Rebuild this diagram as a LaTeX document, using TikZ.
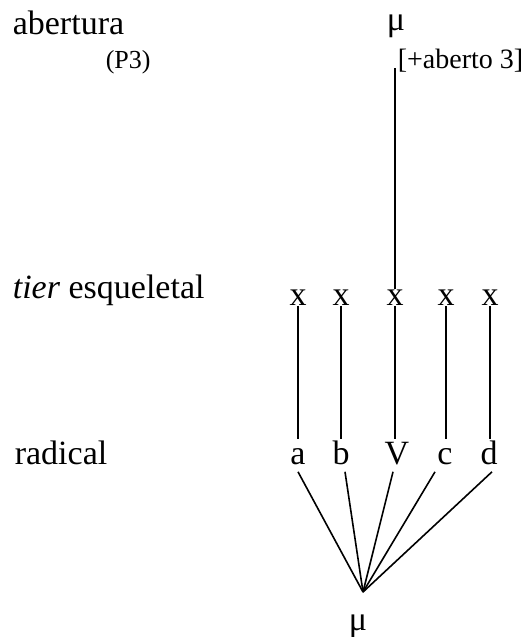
\documentclass[tikz,border=0pt]{standalone}
\usepackage{fontspec}
\setmainfont{Liberation Serif}
\usetikzlibrary{positioning}

\begin{document}
\begin{tikzpicture}[x=1pt,y=-1pt,line width=1.6pt,
 lbl/.style={anchor=base west,inner sep=0pt,font=\fontsize{34}{40}\selectfont},
 small/.style={anchor=base west,inner sep=0pt,font=\fontsize{26}{30}\selectfont},
 slot/.style={anchor=base,inner sep=0pt,font=\fontsize{34}{40}\selectfont},
 seg/.style={slot,text height=24pt,text depth=7pt}]
 \useasboundingbox (0,0) rectangle (528,637);
 % tier labels
 \node[lbl] (abert) at (12,34) {abertura};
 \node[small] (p3) at (105,68) {(P3)};
 \node[lbl] (skel) at (12,298) {\textit{tier} esqueletal};
 \node[lbl] (rad) at (14,464) {radical};
 % aperture node
 \node[slot] (mutop) at (396,30) {μ};
 \node[small,font=\fontsize{28}{32}\selectfont] (feat) at (397,68) {[+aberto 3]};
 % skeleton
 \node[slot] (x1) at (298,305) {x};
 \node[slot] (x2) at (341,305) {x};
 \node[slot] (x3) at (395,305) {x};
 \node[slot] (x4) at (446,305) {x};
 \node[slot] (x5) at (490,305) {x};
 % root segments
 \node[seg] (a) at (298,464) {a};
 \node[seg] (b) at (341,464) {b};
 \node[seg] (v) at (397,464) {V};
 \node[seg] (c) at (445,464) {c};
 \node[seg] (d) at (489,464) {d};
 \node[slot] (mubot) at (358,630) {μ};
 \coordinate (root) at (363,592);
 % association lines
 \draw (x3.north) -- (x3.north |- feat.base);
 \draw (x1.south) -- (x1.south |- a.north);
 \draw (x2.south) -- (x2.south |- b.north);
 \draw (x3.south) -- (x3.south |- v.north);
 \draw (x4.south) -- (x4.south |- c.north);
 \draw (x5.south) -- (x5.south |- d.north);
 \draw (a.south) -- (root);
 \draw ([xshift=4pt]b.south) -- (root);
 \draw ([xshift=-4pt]v.south) -- (root);
 \draw ([xshift=-10pt]c.south) -- (root);
 \draw ([xshift=3pt]d.south) -- (root);
\end{tikzpicture}
\end{document}
